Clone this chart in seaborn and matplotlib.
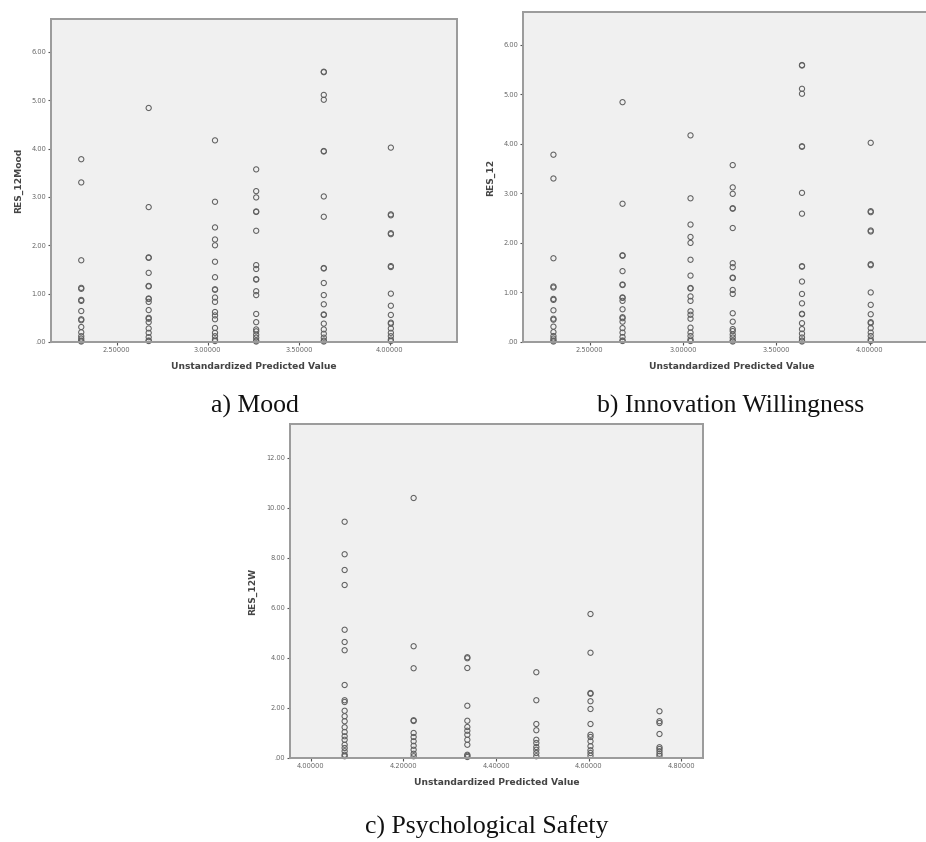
import matplotlib
matplotlib.use("Agg")
import matplotlib.pyplot as plt
import seaborn as sns
import pandas as pd
from matplotlib.ticker import FixedLocator, FuncFormatter

# ---------------- data ----------------
# Panels a and b (same residual pattern)
ab_x_levels = [2.306, 2.676, 3.040, 3.266, 3.637, 4.005]
ab_col1 = [3.78, 3.30, 1.69, 1.12, 1.10, 0.87, 0.85, 0.64, 0.47, 0.45, 0.31, 0.20, 0.12, 0.07, 0.03, 0.01]
ab_col2 = [4.84, 2.79, 1.75, 1.74, 1.43, 1.15, 1.16, 0.90, 0.89, 0.83, 0.66, 0.48, 0.50, 0.41, 0.28, 0.19, 0.10, 0.03, 0.02]
ab_col3 = [4.17, 2.90, 2.37, 2.12, 2.00, 1.66, 1.34, 1.08, 1.09, 0.92, 0.83, 0.62, 0.55, 0.47, 0.29, 0.19, 0.12, 0.05, 0.02]
ab_col4 = [3.57, 3.12, 2.99, 2.69, 2.70, 2.30, 1.59, 1.51, 1.29, 1.30, 1.05, 0.97, 0.58, 0.41, 0.26, 0.22, 0.15, 0.09, 0.03, 0.01]
ab_col5 = [5.58, 5.59, 5.11, 5.01, 3.94, 3.95, 3.01, 2.59, 1.52, 1.53, 1.22, 0.97, 0.78, 0.56, 0.57, 0.38, 0.26, 0.17, 0.09, 0.03, 0.01]
ab_col6 = [4.02, 2.62, 2.64, 2.23, 2.25, 1.55, 1.57, 1.00, 0.75, 0.56, 0.38, 0.40, 0.28, 0.19, 0.12, 0.05, 0.02]
ab_cols = [ab_col1, ab_col2, ab_col3, ab_col4, ab_col5, ab_col6]

# Panel c (psychological safety)
c_x_levels = [4.073, 4.222, 4.338, 4.487, 4.604, 4.753]
c_col1 = [9.45, 8.15, 7.52, 6.92, 5.13, 4.64, 4.31, 2.92, 2.31, 2.24, 1.89, 1.67, 1.47, 1.23, 1.04, 0.87, 0.73, 0.53, 0.40, 0.27, 0.13, 0.07]
c_col2 = [10.40, 4.47, 3.59, 1.51, 1.48, 1.00, 0.84, 0.67, 0.49, 0.33, 0.17, 0.07]
c_col3 = [4.03, 3.99, 3.60, 2.09, 1.49, 1.24, 1.09, 0.93, 0.73, 0.53, 0.13, 0.09, 0.04]
c_col4 = [3.43, 2.31, 1.36, 1.11, 0.73, 0.60, 0.44, 0.33, 0.20, 0.07]
c_col5 = [5.76, 4.21, 2.60, 2.57, 2.27, 1.96, 1.36, 0.93, 0.84, 0.67, 0.47, 0.31, 0.20, 0.09]
c_col6 = [1.87, 1.47, 1.40, 0.96, 0.43, 0.36, 0.27, 0.17, 0.09]
c_cols = [c_col1, c_col2, c_col3, c_col4, c_col5, c_col6]

ab_yticks = [0, 1, 2, 3, 4, 5, 6]
ab_xticks = [2.5, 3.0, 3.5, 4.0]
c_yticks = [0, 2, 4, 6, 8, 10, 12]
c_xticks = [4.0, 4.2, 4.4, 4.6, 4.8]

ylabels = ["RES_12Mood", "RES_12", "RES_12W"]
xlabel = "Unstandardized Predicted Value"
captions = ["a) Mood", "b) Innovation Willingness", "c) Psychological Safety"]


def to_frame(levels, cols):
    xs, ys = [], []
    for lv, col in zip(levels, cols):
        xs += [lv] * len(col)
        ys += col
    return pd.DataFrame({"x": xs, "y": ys})


df_ab = to_frame(ab_x_levels, ab_cols)
df_c = to_frame(c_x_levels, c_cols)

sns.set_theme(style="white")
plt.rcParams['font.family'] = ['DejaVu Sans']

fig = plt.figure(figsize=(9.26, 8.42), dpi=100)
W, H = 926.0, 842.0


def px_axes(left, top, right, bottom):
    return fig.add_axes([left / W, 1 - bottom / H, (right - left) / W, (bottom - top) / H])


ax_a = px_axes(51, 19, 457, 342)
ax_b = px_axes(523, 12, 940, 342)
ax_c = px_axes(290, 424, 703, 758)


def ytick_fmt(v, pos):
    s = "%.2f" % v
    if s.startswith("0"):
        s = s[1:]
    return s


def xtick_fmt(v, pos):
    return "%.5f" % v


def style(ax, df, xlim, ylim, xticks, yticks, ylabel, ylab_pad):
    sns.scatterplot(data=df, x="x", y="y", ax=ax, marker="o", s=14,
                    facecolors="none", edgecolors="#606060", linewidths=0.75,
                    legend=False, clip_on=False)
    ax.set_facecolor("#f0f0f0")
    ax.set_xlim(*xlim)
    ax.set_ylim(*ylim)
    ax.xaxis.set_major_locator(FixedLocator(xticks))
    ax.yaxis.set_major_locator(FixedLocator(yticks))
    ax.xaxis.set_major_formatter(FuncFormatter(xtick_fmt))
    ax.yaxis.set_major_formatter(FuncFormatter(ytick_fmt))
    ax.tick_params(axis="both", which="major", direction="out", length=2.5, width=0.8,
                   color="#555555", labelsize=4.8, labelcolor="#666666", pad=0.8,
                   bottom=True, left=True)
    for sp in ax.spines.values():
        sp.set_color("#9a9a9a")
        sp.set_linewidth(1.4)
    ax.set_xlabel(xlabel, fontsize=6.6, fontweight="bold", color="#444444", labelpad=7)
    ax.set_ylabel(ylabel, fontsize=6.6, fontweight="bold", color="#444444", labelpad=ylab_pad)


style(ax_a, df_ab, (2.14, 4.368), (0, 6.68), ab_xticks, ab_yticks, ylabels[0], 6)
style(ax_b, df_ab, (2.143, 4.376), (0, 6.66), ab_xticks, ab_yticks, ylabels[1], 6)
style(ax_c, df_c, (3.955, 4.847), (0, 13.36), c_xticks, c_yticks, ylabels[2], 7)

cap_kw = dict(fontsize=18.5, family=["Liberation Serif", "DejaVu Serif"], color="#111111",
              ha="center", va="baseline")
fig.text(255 / W, 1 - 413 / H, captions[0], **cap_kw)
fig.text(731 / W, 1 - 413 / H, captions[1], **cap_kw)
fig.text(487 / W, 1 - 834 / H, captions[2], **cap_kw)

fig.savefig("out.png", dpi=100, facecolor="white")
